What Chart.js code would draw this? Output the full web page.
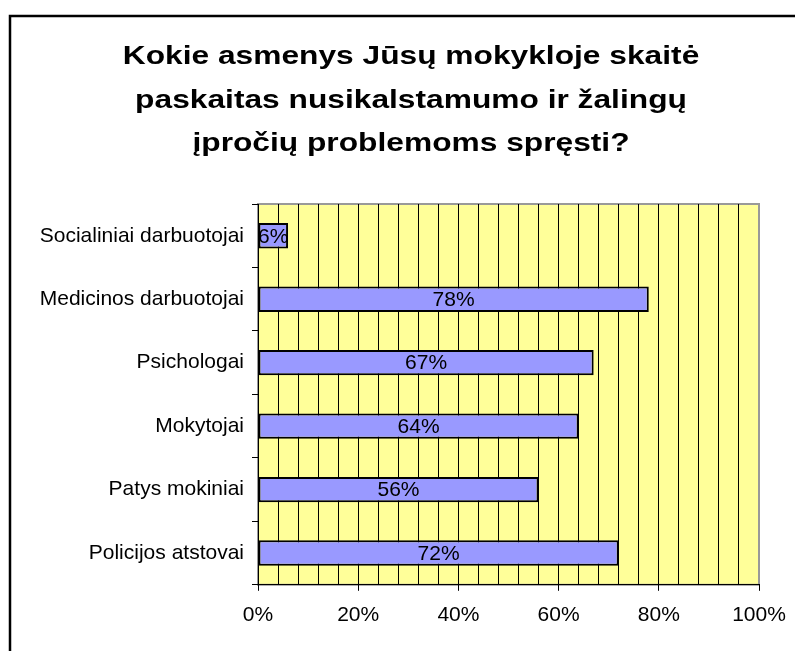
<!DOCTYPE html>
<html><head><meta charset="utf-8">
<script src="https://cdn.jsdelivr.net/npm/chart.js@4"></script>
<style>html,body{margin:0;padding:0;background:#fff;overflow:hidden}#wrap{width:795px;height:651px;position:relative}</style>
</head><body><div id="wrap"><canvas id="c" width="795" height="651"></canvas></div>
<script>
const titleLines = ['Kokie asmenys Jūsų mokykloje skaitė', 'paskaitas nusikalstamumo ir žalingų', 'įpročių problemoms spręsti?'];
const categories = ['Socialiniai darbuotojai', 'Medicinos darbuotojai', 'Psichologai', 'Mokytojai', 'Patys mokiniai', 'Policijos atstovai'];
const values = [6, 78, 67, 64, 56, 72];
const xTickLabels = ['0%', '20%', '40%', '60%', '80%', '100%'];
const xMin = 0, xMax = 100, labelStep = 20, gridStep = 4;

const FONT = "'Liberation Sans', Arial, sans-serif";

const framePlugin = {
  id: 'frame',
  beforeDraw(chart) {
    const { ctx, chartArea: a } = chart;
    ctx.save();
    ctx.fillStyle = '#ffffff';
    ctx.fillRect(0, 0, chart.width, chart.height);
    ctx.strokeStyle = '#000';
    ctx.lineWidth = 2.5;
    ctx.strokeRect(10, 16, 820, 680);
    ctx.fillStyle = '#FFFF99';
    ctx.fillRect(a.left, a.top, a.right - a.left, a.bottom - a.top);
    ctx.strokeStyle = '#999999';
    ctx.lineWidth = 2;
    ctx.strokeRect(a.left, a.top, a.right - a.left, a.bottom - a.top);
    // title
    ctx.fillStyle = '#000';
    ctx.font = 'bold 26px ' + FONT;
    ctx.textAlign = 'center';
    ctx.textBaseline = 'alphabetic';
    const cx = 411, sx = 1.22;
    titleLines.forEach((line, i) => {
      ctx.save();
      ctx.translate(cx, 64 + i * 43.5);
      ctx.scale(sx, 1);
      ctx.fillText(line, 0, 0);
      ctx.restore();
    });
    ctx.restore();
  }
};

const labelPlugin = {
  id: 'barLabels',
  afterDatasetsDraw(chart) {
    const { ctx } = chart;
    const meta = chart.getDatasetMeta(0);
    ctx.save();
    ctx.font = '21px ' + FONT;
    ctx.fillStyle = '#000';
    ctx.textAlign = 'center';
    ctx.textBaseline = 'middle';
    meta.data.forEach((bar, i) => {
      const cx = (bar.base + bar.x) / 2;
      ctx.fillText(values[i] + '%', cx, bar.y + 1);
    });
    ctx.restore();
  }
};

new Chart(document.getElementById('c'), {
  type: 'bar',
  data: {
    labels: categories,
    datasets: [{
      data: values,
      backgroundColor: '#9999FF',
      borderColor: '#000000',
      borderWidth: 2,
      borderSkipped: false,
      barPercentage: 0.4,
      categoryPercentage: 1
    }]
  },
  options: {
    indexAxis: 'y',
    responsive: false,
    devicePixelRatio: 1,
    animation: false,
    layout: { padding: { left: 20, right: 36, top: 204, bottom: 11 } },
    plugins: {
      legend: { display: false },
      tooltip: { enabled: false },
      title: { display: false }
    },
    scales: {
      x: {
        min: xMin, max: xMax,
        ticks: {
          stepSize: gridStep,
          autoSkip: false,
          maxRotation: 0,
          color: '#000',
          padding: 12,
          font: { family: FONT, size: 21 },
          callback: (v) => (v % labelStep === 0 ? xTickLabels[v / labelStep] : '')
        },
        grid: {
          color: (ctx) => (ctx.tick && ctx.tick.value === xMax ? '#999999' : '#000000'),
          tickColor: (ctx) => (ctx.tick && ctx.tick.value % labelStep === 0 ? '#000000' : 'rgba(0,0,0,0)'),
          tickLength: 6,
          lineWidth: 1
        },
        border: { color: '#000', width: 1 },
        afterFit(scale) { scale.paddingRight = 0; scale.paddingLeft = 0; }
      },
      y: {
        offset: true,
        ticks: {
          color: '#000',
          padding: 8,
          font: { family: FONT, size: 21 }
        },
        grid: {
          offset: true,
          drawOnChartArea: false,
          color: '#000',
          tickLength: 6
        },
        border: { color: '#000', width: 1 },
        afterFit(scale) { scale.width = 238; }
      }
    }
  },
  plugins: [framePlugin, labelPlugin]
});
</script>
</body></html>
